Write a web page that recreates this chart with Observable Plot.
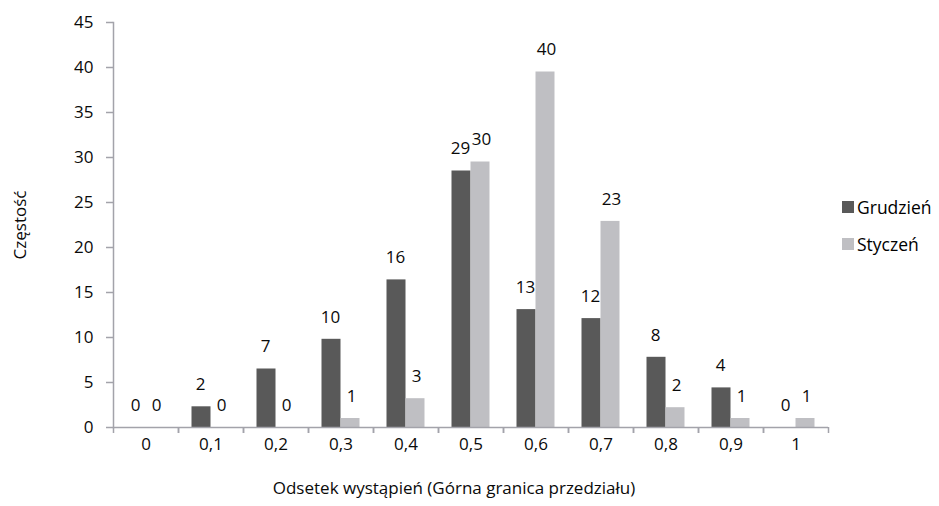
<!DOCTYPE html>
<html>
<head>
<meta charset="utf-8">
<script src="https://cdn.jsdelivr.net/npm/d3@7"></script>
<script src="https://cdn.jsdelivr.net/npm/@observablehq/plot@0.6"></script>
<style>
  body { margin: 0; background: #fff; }
  #chart { position: relative; width: 939px; height: 506px; font-family: "Open Sans", Lato, sans-serif; color: #000; }
  #chart svg { display: block; }
  .legend { position: absolute; left: 842px; top: 197px; font-size: 17.5px; line-height: 20px; }
  .legend div { display: flex; align-items: center; height: 20px; margin-bottom: 17px; }
  .legend span.sw { display: inline-block; width: 12px; height: 12px; margin-right: 3px; }
</style>
</head>
<body>
<div id="chart"></div>
<script>
// Histogram of occurrence share, two months side by side
const categories = ["0", "0,1", "0,2", "0,3", "0,4", "0,5", "0,6", "0,7", "0,8", "0,9", "1"];
const series = ["Grudzień", "Styczeń"];
const grudzien = [0, 2.3, 6.5, 9.8, 16.4, 28.5, 13.1, 12.1, 7.8, 4.4, 0];
const styczen  = [0, 0, 0, 1.0, 3.2, 29.5, 39.5, 22.9, 2.2, 1.0, 1.0];
const yTicks = [0, 5, 10, 15, 20, 25, 30, 35, 40, 45];
const colors = ["#595959", "#bfbfc3"];
const xTitle = "Odsetek wystąpień (Górna granica przedziału)";
const yTitle = "Częstość";

const width = 939, height = 506;
const margin = {top: 22, right: 111, bottom: 79, left: 113};
const step = (width - margin.left - margin.right) / categories.length;
const barW = 19;
const axisColor = "#a3a3aa";
const fontSize = 17;
const ink = "#0a0a0a";
const font = "'Open Sans', Lato, sans-serif";

const rows = [grudzien, styczen].flatMap((vals, s) =>
  vals.map((v, i) => ({category: categories[i], series: series[s], value: v, s}))
);
const rowsG = rows.filter(d => d.s === 0);
const rowsS = rows.filter(d => d.s === 1);

const plot = Plot.plot({
  width, height,
  marginTop: margin.top, marginRight: margin.right,
  marginBottom: margin.bottom, marginLeft: margin.left,
  style: {fontFamily: font, fontSize: fontSize + "px", color: ink, background: "#fff"},
  x: {type: "band", domain: categories, padding: 0, axis: null},
  y: {domain: [0, 45], axis: null},
  marks: [
    // bars: December on the left half, January on the right half of each bin
    Plot.barY(rowsG, {x: "category", y: "value", fill: colors[0], insetLeft: step / 2 - barW, insetRight: step / 2}),
    Plot.barY(rowsS, {x: "category", y: "value", fill: colors[1], insetLeft: step / 2, insetRight: step / 2 - barW}),
    // axis lines
    Plot.frame({anchor: "left", stroke: axisColor, strokeWidth: 1.5}),
    Plot.ruleY([0], {stroke: axisColor, strokeWidth: 1.5}),
    // bin boundary ticks
    Plot.axisX({ticks: categories, tickSize: 6, tickFormat: () => "", label: null, stroke: axisColor, strokeWidth: 1.5, dx: -step / 2}),
    Plot.axisX({ticks: categories, tickSize: 6, tickFormat: () => "", label: null, stroke: axisColor, strokeWidth: 1.5, dx: step / 2}),
    // category labels
    Plot.axisX({tickSize: 0, tickPadding: 10, label: null, fill: ink, fontSize}),
    // y axis
    Plot.axisY({
      ticks: yTicks, tickSize: 7, tickPadding: 13, stroke: axisColor, strokeWidth: 1.5, fill: ink, fontSize,
      label: yTitle, labelAnchor: "center", labelOffset: 100, labelArrow: "none"
    }),
    // value labels
    Plot.text(rowsG, {x: "category", y: "value", text: d => String(Math.round(d.value)), dx: -barW / 2 - 1, dy: -22, fill: ink, fontSize}),
    Plot.text(rowsS, {x: "category", y: "value", text: d => String(Math.round(d.value)), dx: barW / 2 + 1, dy: -22, fill: ink, fontSize}),
    // x title
    Plot.text([xTitle], {text: d => d, frameAnchor: "bottom", dy: 66, dx: -17, fill: ink, fontSize})
  ]
});

const chart = document.getElementById("chart");
chart.appendChild(plot);

// legend
const legend = document.createElement("div");
legend.className = "legend";
series.forEach((name, i) => {
  const row = document.createElement("div");
  const sw = document.createElement("span");
  sw.className = "sw";
  sw.style.background = colors[i];
  row.appendChild(sw);
  row.appendChild(document.createTextNode(name));
  legend.appendChild(row);
});
chart.appendChild(legend);
</script>
</body>
</html>
